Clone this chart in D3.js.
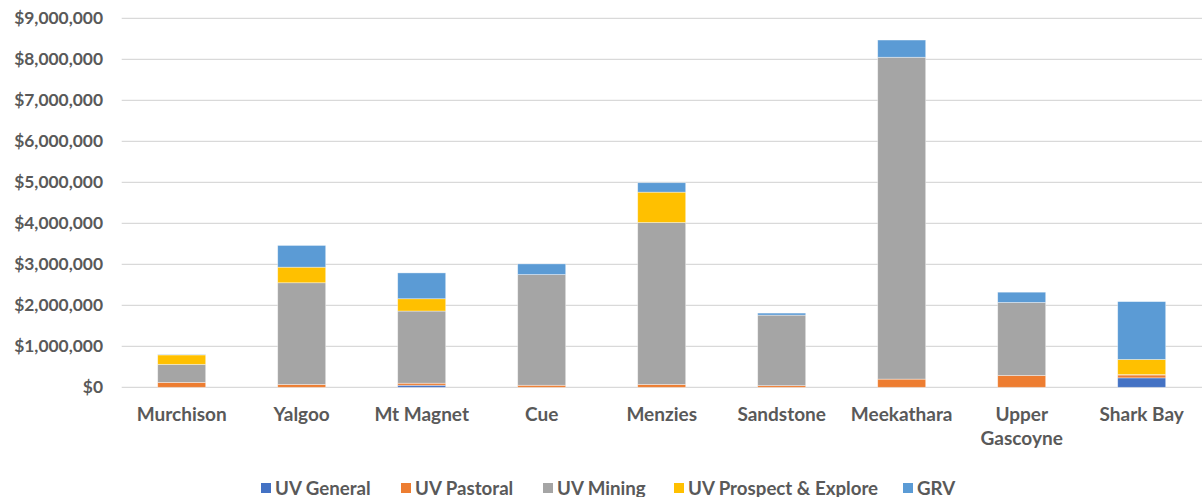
<!DOCTYPE html>
<html><head><meta charset="utf-8">
<script src="https://cdn.jsdelivr.net/npm/d3@7"></script>
<style>
html,body{margin:0;padding:0;background:#fff;}
svg{display:block;font-family:Lato,"Open Sans",sans-serif;font-weight:bold;}
</style></head>
<body><svg id="c" width="1202" height="497"></svg>
<script>
const categories = ["Murchison","Yalgoo","Mt Magnet","Cue","Menzies","Sandstone","Meekathara","Upper Gascoyne","Shark Bay"];
const seriesNames = ["UV General","UV Pastoral","UV Mining","UV Prospect & Explore","GRV"];
const uvGeneral  = [0, 0, 50000, 0, 0, 0, 0, 0, 230000];
const uvPastoral = [120000, 70000, 50000, 50000, 70000, 40000, 200000, 290000, 70000];
const uvMining   = [440000, 2480000, 1760000, 2700000, 3950000, 1720000, 7850000, 1780000, 10000];
const uvProspect = [230000, 380000, 300000, 0, 740000, 0, 0, 0, 370000];
const grv        = [10000, 530000, 630000, 260000, 230000, 50000, 420000, 250000, 1410000];
const yTicks = [0,1000000,2000000,3000000,4000000,5000000,6000000,7000000,8000000,9000000];
const colors = ["#4472C4","#ED7D31","#A5A5A5","#FFC000","#5B9BD5"];

const seriesValues = [uvGeneral, uvPastoral, uvMining, uvProspect, grv];
const rows = categories.map((c,i)=>{const r={cat:c}; seriesNames.forEach((s,j)=>r[s]=seriesValues[j][i]); return r;});
const stacked = d3.stack().keys(seriesNames)(rows);

const svg = d3.select("#c");
const x = d3.scaleBand().domain(categories).range([121.7,1201.7]).paddingInner(0.6).paddingOuter(0.3);
const y = d3.scaleLinear().domain([0,9000000]).range([387.3,18.3]);

// gridlines
svg.append("g").selectAll("line").data(yTicks).join("line")
  .attr("x1",121.7).attr("x2",1202).attr("y1",d=>y(d)).attr("y2",d=>y(d))
  .attr("stroke","#d9d9d9").attr("stroke-width",1.3);

// y axis labels
const fmt = d=>"$"+d3.format(",")(d);
const yAxis = d3.axisLeft(y).tickValues(yTicks).tickFormat(fmt).tickSize(0).tickPadding(0);
const ya = svg.append("g").attr("transform","translate(103,0)").call(yAxis);
ya.select(".domain").remove();
ya.selectAll("text").attr("fill","#595959").style("font-size","17.4px").style("font-family","Lato").style("font-weight","bold");

// bars
svg.append("g").selectAll("g").data(stacked).join("g")
  .attr("fill",(d,i)=>colors[i])
  .selectAll("rect").data(d=>d).join("rect")
  .attr("x",d=>x(d.data.cat)).attr("width",x.bandwidth())
  .attr("y",d=>y(d[1])).attr("height",d=>Math.max(0,y(d[0])-y(d[1])))
  .attr("stroke","#ffffff").attr("stroke-opacity",0.5).attr("stroke-width",0.75);

// x axis labels
const xg = svg.append("g");
categories.forEach(c=>{
  const t = xg.append("text").attr("x",x(c)+x.bandwidth()/2).attr("y",421)
    .attr("text-anchor","middle").attr("fill","#595959").style("font-size","19px");
  const parts = c==="Upper Gascoyne" ? ["Upper","Gascoyne"] : [c];
  parts.forEach((p,k)=>t.append("tspan").attr("x",x(c)+x.bandwidth()/2).attr("dy",k?24:0).text(p));
});

// legend
const legX = [261,401,543,674,903];
const lg = svg.append("g");
seriesNames.forEach((s,i)=>{
  lg.append("rect").attr("x",legX[i]).attr("y",483).attr("width",10).attr("height",10).attr("fill",colors[i]);
  lg.append("text").attr("x",legX[i]+14).attr("y",494.5).attr("fill","#595959").style("font-size","18.7px").text(s);
});
</script></body></html>
